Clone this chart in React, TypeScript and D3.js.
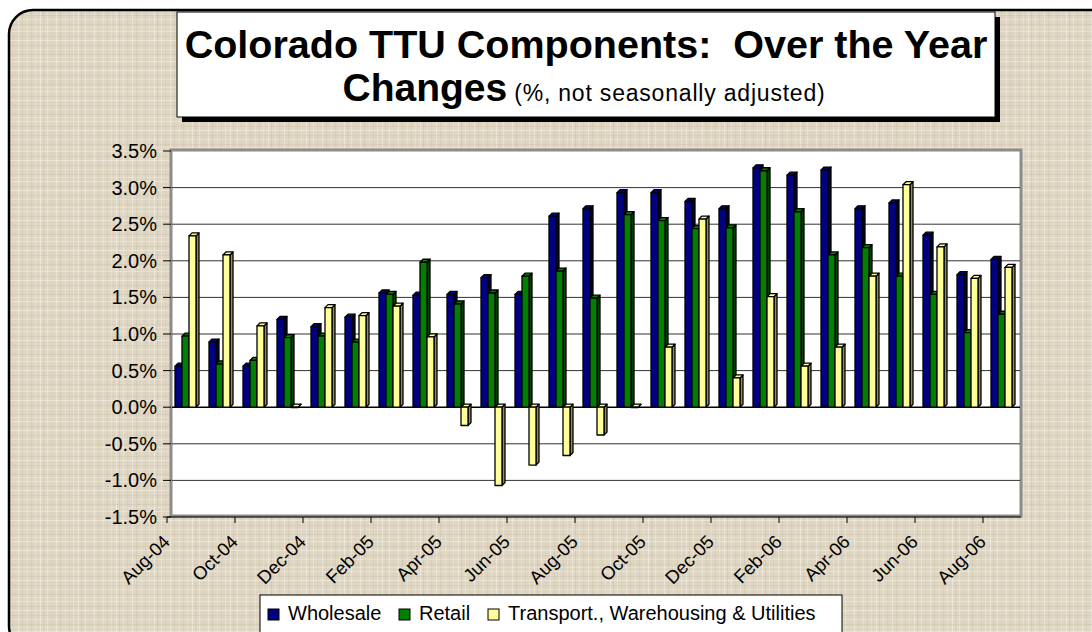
import React from 'react';
import * as d3 from 'd3';

const months = [
  'Aug-04', 'Sep-04', 'Oct-04', 'Nov-04', 'Dec-04', 'Jan-05', 'Feb-05', 'Mar-05', 'Apr-05',
  'May-05', 'Jun-05', 'Jul-05', 'Aug-05', 'Sep-05', 'Oct-05', 'Nov-05', 'Dec-05', 'Jan-06',
  'Feb-06', 'Mar-06', 'Apr-06', 'May-06', 'Jun-06', 'Jul-06', 'Aug-06',
];
const wholesale = [0.56, 0.89, 0.56, 1.2, 1.1, 1.23, 1.56, 1.53, 1.54, 1.77, 1.54, 2.61, 2.71, 2.93, 2.93, 2.81, 2.71, 3.27, 3.17, 3.24, 2.71, 2.79, 2.35, 1.81, 2.02];
const retail = [0.97, 0.59, 0.64, 0.95, 0.97, 0.89, 1.54, 1.98, 1.41, 1.56, 1.79, 1.86, 1.49, 2.63, 2.55, 2.44, 2.45, 3.23, 2.67, 2.08, 2.18, 1.79, 1.54, 1.02, 1.27];
const transport = [2.34, 2.08, 1.11, 0.0, 1.36, 1.25, 1.38, 0.96, -0.25, -1.07, -0.79, -0.66, -0.38, 0.0, 0.82, 2.57, 0.4, 1.51, 0.56, 0.82, 1.79, 3.04, 2.19, 1.76, 1.91];
const xTickLabels = months.filter((_, i) => i % 2 === 0);
const yTicks = [-1.5, -1.0, -0.5, 0, 0.5, 1.0, 1.5, 2.0, 2.5, 3.0, 3.5];

const series = [
  { name: 'Wholesale', values: wholesale, fill: '#000080', side: '#000040' },
  { name: 'Retail', values: retail, fill: '#008000', side: '#004000' },
  { name: 'Transport., Warehousing & Utilities', values: transport, fill: '#ffff99', side: '#8c8c55' },
];
const legendWidths = [93, 51, 328];

const FONT = 'Liberation Sans, Arial, sans-serif';
const W = 1092;
const H = 632;

// canvas weave: [position, colour, opacity]
const vLines: [number, string, number][] = [
  [2, '#f4efe4', 0.7], [5, '#c9bea6', 0.45], [9, '#f1ebde', 0.55], [13, '#cdc2ab', 0.35],
  [18, '#f5f0e6', 0.6], [22, '#c6bba3', 0.4], [27, '#eee8da', 0.5], [31, '#cfc4ad', 0.45], [35, '#f3eee3', 0.4],
];
const hLines: [number, string, number][] = [
  [1, '#f2ece0', 0.55], [6, '#cbc0a8', 0.4], [10, '#f5f0e6', 0.6], [15, '#c8bda5', 0.35],
  [19, '#efe9dc', 0.5], [24, '#cdc2aa', 0.45], [27, '#f3eee2', 0.45],
];

const App: React.FC = () => {
  const x = d3.scaleBand<string>().domain(months).range([167, 1017]).paddingInner(0).paddingOuter(0);
  const y = d3.scaleLinear().domain([-1.5, 3.5]).range([517, 151]);
  const bw = x.bandwidth();
  const barW = (bw * 7) / 34;
  const offs = (bw * 8) / 34;
  const depth = 3;
  const y0 = y(0);

  let lx = 268;
  const legendItems = series.map((s, i) => {
    const item = { ...s, x: lx };
    lx += 20 + legendWidths[i] + 18;
    return item;
  });

  return (
    <svg width={W} height={H} style={{ position: 'absolute', left: 0, top: 0, background: '#fff' }} fontFamily={FONT}>
      <defs>
        <pattern id="canvas" width={38} height={30} patternUnits="userSpaceOnUse">
          <rect width={38} height={30} fill="#ded5c2" />
          {vLines.map(([p, c, o], i) => (
            <rect key={'v' + i} x={p} y={0} width={1} height={30} fill={c} opacity={o} />
          ))}
          {hLines.map(([p, c, o], i) => (
            <rect key={'h' + i} x={0} y={p} width={38} height={1} fill={c} opacity={o} />
          ))}
        </pattern>
      </defs>

      <rect x={9} y={10} width={1110} height={640} rx={24} fill="url(#canvas)" stroke="#000" strokeWidth={2.5} />

      {/* title box */}
      <rect x={182} y={17} width={818} height={105} fill="#000" />
      <rect x={177} y={12} width={818} height={105} fill="#fff" stroke="#000" strokeWidth={1} />
      <text x={586} y={58} textAnchor="middle" fontSize={39.5} fontWeight="bold" style={{ whiteSpace: 'pre' }}>
        Colorado TTU Components:  Over the Year
      </text>
      <text x={584} y={101} textAnchor="middle">
        <tspan fontSize={39} fontWeight="bold">Changes</tspan>
        <tspan fontSize={23} dx={7} letterSpacing={0.8}>(%, not seasonally adjusted)</tspan>
      </text>

      {/* plot area */}
      <rect x={171} y={150} width={850} height={366} fill="#fff" stroke="#8c8c8c" strokeWidth={3} />
      {yTicks.filter(v => v !== -1.5 && v !== 3.5).map(v => (
        <line key={'g' + v} x1={172} x2={1020} y1={y(v)} y2={y(v)} stroke={v === 0 ? '#000' : '#333'} strokeWidth={v === 0 ? 1.5 : 1} />
      ))}

      {/* bars */}
      {months.map((m, i) => (
        <g key={m}>
          {series.map((s, j) => {
            const v = s.values[i];
            const bx = (x(m) as number) + offs + j * barW;
            const top = Math.min(y(v), y0);
            const bot = Math.max(y(v), y0);
            return (
              <g key={s.name} stroke="#000" strokeWidth={1.3} strokeLinejoin="round">
                <polygon
                  points={`${bx + barW},${top} ${bx + barW + depth},${top - depth} ${bx + barW + depth},${bot - depth} ${bx + barW},${bot}`}
                  fill={s.side}
                />
                <polygon
                  points={`${bx},${top} ${bx + depth},${top - depth} ${bx + barW + depth},${top - depth} ${bx + barW},${top}`}
                  fill={s.fill}
                />
                <rect x={bx} y={top} width={barW} height={Math.max(bot - top, 0.5)} fill={s.fill} />
              </g>
            );
          })}
        </g>
      ))}

      {/* y axis */}
      {yTicks.map(v => (
        <g key={'y' + v}>
          <line x1={163} x2={171} y1={y(v)} y2={y(v)} stroke="#000" strokeWidth={1} />
          <text x={157} y={y(v)} dy="0.35em" textAnchor="end" fontSize={20}>
            {v.toFixed(1) + '%'}
          </text>
        </g>
      ))}

      {/* x axis */}
      <line x1={167} x2={1021} y1={517} y2={517} stroke="#000" strokeWidth={1} />
      {xTickLabels.map(m => (
        <line key={'t' + m} x1={x(m) as number} x2={x(m) as number} y1={517} y2={523} stroke="#000" />
      ))}
      {xTickLabels.map(m => {
        const tx = (x(m) as number) + 4;
        return (
          <text key={'l' + m} transform={`translate(${tx},543) rotate(-45)`} textAnchor="end" fontSize={18.5}>
            {m}
          </text>
        );
      })}

      {/* legend */}
      <rect x={260} y={595} width={582} height={50} fill="#fff" stroke="#000" strokeWidth={1} />
      {legendItems.map(s => (
        <g key={'lg' + s.name}>
          <rect x={s.x} y={609} width={11} height={11} fill={s.fill} stroke="#000" strokeWidth={1} />
          <text x={s.x + 20} y={620} fontSize={20}>{s.name}</text>
        </g>
      ))}
    </svg>
  );
};

export default App;
